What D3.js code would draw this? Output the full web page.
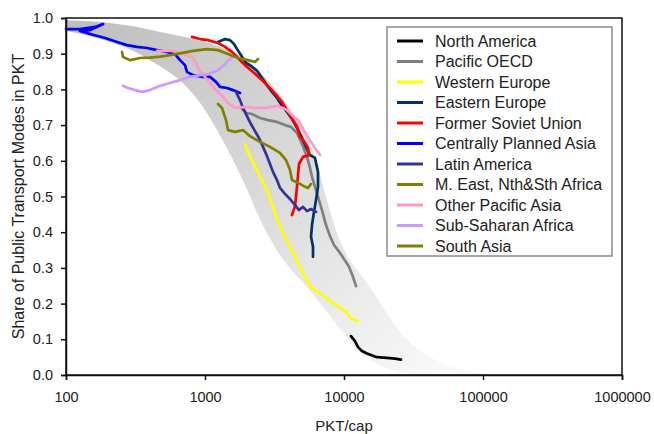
<!DOCTYPE html>
<html>
<head>
<meta charset="utf-8">
<script src="https://cdn.jsdelivr.net/npm/d3@7"></script>
<style>
body{margin:0;background:#fff;}
svg{display:block;}
text{font-family:"Liberation Sans",Arial,sans-serif;fill:#222;}
</style>
</head>
<body>
<svg></svg>
<script>
// regions and their colours, in legend order
var regions=["North America","Pacific OECD","Western Europe","Eastern Europe","Former Soviet Union",
  "Centrally Planned Asia","Latin America","M. East, Nth&Sth Africa","Other Pacific Asia",
  "Sub-Saharan Africa","South Asia"];
var regionColors=["#000000","#808080","#ffff00","#003366","#ff0000","#0000ff","#333399",
  "#808000","#ff99cc","#cc99ff","#7f7f00"];

// [PKT per capita, share of public transport]
var northAmerica=[[11220,.109],[12000,.095],[12620,.078],[13460,.067],[14620,.060],[17260,.050],[20370,.048],[23280,.046],[25700,.043]];
var pacificOECD=[[1786,.751],[1972,.734],[2178,.731],[2487,.720],[2840,.714],[3296,.709],[3764,.700],[4156,.695],[4590,.678],[5070,.641],[5420,.611],[5693,.580],[5886,.555],[6185,.527],[6500,.499],[6945,.462],[7421,.420],[7930,.389],[8475,.364],[9360,.342],[10000,.325],[10860,.303],[11605,.275],[12200,.249]];
var westernEurope=[[1941,.647],[2038,.625],[2178,.602],[2366,.574],[2570,.546],[2793,.518],[3034,.476],[3243,.445],[3466,.415],[3764,.387],[4090,.359],[4440,.331],[4823,.303],[5240,.275],[5690,.249],[6500,.232],[7300,.218],[8340,.202],[9360,.188],[10510,.176],[11040,.160],[12610,.151]];
var easternEurope=[[1241,.933],[1393,.941],[1513,.938],[1617,.927],[1699,.913],[1816,.896],[1972,.874],[2142,.866],[2366,.852],[2571,.832],[2793,.812],[3034,.793],[3296,.776],[3581,.754],[3890,.737],[4226,.717],[4590,.692],[4987,.664],[5330,.639],[5693,.616],[6185,.608],[6500,.569],[6500,.527],[6290,.490],[6085,.457],[5886,.420],[5790,.387],[5984,.359],[5984,.331]];
var formerSovietUnion=[[806,.947],[920,.941],[1051,.938],[1241,.930],[1393,.919],[1564,.905],[1728,.888],[1940,.868],[2214,.849],[2571,.826],[3034,.798],[3581,.765],[3955,.737],[4296,.714],[4590,.697],[4825,.667],[5155,.655],[5508,.636],[5600,.616],[5070,.611],[4746,.591],[4670,.560],[4590,.527],[4515,.499],[4442,.473],[4226,.448]];
var centrallyPlannedAsia=[[100,.969],[126,.969],[162,.975],[185,.983],[149,.966],[126,.964],[149,.955],[191,.944],[233,.933],[275,.924],[324,.919],[383,.916],[452,.910],[533,.905],[609,.899],[661,.882],[718,.868],[742,.849],[820,.840],[967,.835],[1086,.835],[1200,.821],[1282,.807],[1440,.804],[1590,.798],[1786,.790]];
var latinAmerica=[[1671,.793],[1786,.770],[1877,.748],[2005,.725],[2142,.703],[2289,.683],[2446,.664],[2614,.639],[2793,.613],[2935,.591],[3085,.569],[3296,.546],[3464,.524],[3764,.507],[4089,.493],[4442,.476],[4746,.462],[5070,.471],[5420,.459],[5790,.465],[6290,.457]];
var middleEastAfrica=[[1241,.759],[1326,.748],[1416,.714],[1464,.686],[1644,.681],[1877,.686],[2107,.669],[2487,.653],[2935,.639],[3464,.622],[3826,.602],[4089,.574],[4226,.546],[4670,.538],[5155,.529],[5508,.524],[5790,.535]];
var otherPacificAsia=[[452,.908],[516,.908],[579,.908],[661,.902],[742,.896],[806,.891],[862,.874],[905,.854],[984,.838],[1069,.821],[1180,.801],[1326,.782],[1488,.759],[1671,.748],[1940,.751],[2327,.748],[2747,.748],[3296,.754],[3890,.742],[4296,.725],[4670,.714],[5070,.689],[5600,.661],[6185,.636],[6720,.616]];
var subSaharanAfrica=[[257,.810],[279,.804],[314,.798],[352,.793],[402,.798],[475,.810],[560,.818],[661,.826],[780,.835],[920,.840],[1051,.843],[1220,.852],[1370,.868],[1464,.880],[1564,.891]];
var southAsia=[[253,.905],[257,.891],[289,.882],[341,.888],[402,.889],[475,.892],[560,.896],[661,.901],[820,.908],[1034,.913],[1241,.910],[1464,.899],[1728,.888],[2039,.882],[2289,.877],[2406,.885]];

// grey envelope: upper (right) and lower (left) edges
var bandUpper=[[100,.994],[176,.989],[289,.978],[475,.961],[780,.944],[1180,.924],[1786,.896],[2487,.849],[3464,.784],[4442,.723],[5508,.658],[6290,.602],[7180,.518],[8199,.440],[9510,.370],[11045,.322],[13475,.275],[16710,.224],[21420,.160],[29840,.090],[49040,.036],[80640,.011],[122000,0]];
var bandLower=[[100,.964],[156,.947],[275,.916],[423,.877],[629,.832],[820,.787],[1000,.742],[1220,.686],[1464,.630],[1728,.574],[2039,.513],[2406,.448],[2840,.392],[3464,.336],[4296,.289],[5508,.244],[7930,.165],[12400,.076],[16710,.034],[25290,.006],[32420,0]];

var xTicks=[100,1000,10000,100000,1000000];
var yTicks=[0,0.1,0.2,0.3,0.4,0.5,0.6,0.7,0.8,0.9,1.0];

var series=[northAmerica,pacificOECD,westernEurope,easternEurope,formerSovietUnion,
  centrallyPlannedAsia,latinAmerica,middleEastAfrica,otherPacificAsia,subSaharanAfrica,southAsia];

var drawGraph=function(w,h)
{
  var svg=d3.select("svg")
            .attr("width",w)
            .attr("height",h);
  var margins={top:18,bottom:59,left:66,right:32};
  var width=w-margins.left-margins.right;
  var height=h-margins.top-margins.bottom;

  var xScale=d3.scaleLog()
               .domain([100,1000000])
               .range([0,width]);
  var yScale=d3.scaleLinear()
               .domain([0,1])
               .range([height,0]);

  var defs=svg.append("defs");
  defs.append("clipPath").attr("id","plotClip")
      .append("rect").attr("width",width).attr("height",height);
  var grad=defs.append("linearGradient")
               .attr("id","bandGrad")
               .attr("gradientUnits","userSpaceOnUse")
               .attr("x1",0).attr("y1",0)
               .attr("x2",xScale(40000)).attr("y2",height);
  grad.append("stop").attr("offset","0").attr("stop-color","#bdbdbd");
  grad.append("stop").attr("offset","0.45").attr("stop-color","#d6d6d6");
  grad.append("stop").attr("offset","0.8").attr("stop-color","#ececec");
  grad.append("stop").attr("offset","1").attr("stop-color","#f8f8f8");

  var plotLand=svg.append("g")
                  .classed("plot",true)
                  .attr("transform","translate("+margins.left+","+margins.top+")");

  var line=d3.line()
             .x(function(d){return xScale(d[0]);})
             .y(function(d){return yScale(d[1]);});
  var smooth=d3.line()
               .x(function(d){return xScale(d[0]);})
               .y(function(d){return yScale(d[1]);})
               .curve(d3.curveCatmullRom);

  var bandPath=smooth(bandUpper)+"L"+smooth(bandLower.slice().reverse()).slice(1)+"Z";
  plotLand.append("path")
          .attr("d",bandPath)
          .attr("fill","url(#bandGrad)")
          .attr("clip-path","url(#plotClip)");

  plotLand.selectAll(".region")
          .data(series)
          .enter()
          .append("path")
          .classed("region",true)
          .attr("d",line)
          .attr("fill","none")
          .attr("stroke",function(d,i){return regionColors[i];})
          .attr("stroke-width",2.7)
          .attr("stroke-linejoin","round")
          .attr("stroke-linecap","round");

  // frame (top and right)
  plotLand.append("rect")
          .attr("width",width)
          .attr("height",height)
          .attr("fill","none")
          .attr("stroke","#111")
          .attr("stroke-width",1.5);

  var xAxis=d3.axisBottom(xScale)
              .tickValues(xTicks)
              .tickFormat(d3.format("d"))
              .tickSizeOuter(0)
              .tickSize(5)
              .tickPadding(12);
  var yAxis=d3.axisLeft(yScale)
              .tickValues(yTicks)
              .tickFormat(d3.format(".1f"))
              .tickSizeOuter(0)
              .tickSize(5)
              .tickPadding(8);

  svg.append("g").classed("xAxis",true)
     .attr("transform","translate("+margins.left+","+(margins.top+height)+")")
     .call(xAxis);
  svg.append("g").classed("yAxis",true)
     .attr("transform","translate("+margins.left+","+margins.top+")")
     .call(yAxis);
  svg.selectAll(".xAxis text,.yAxis text")
     .style("font-size","14.5px")
     .attr("fill","#222")
     .style("font-family","'Liberation Sans',Arial,sans-serif");
  svg.selectAll(".xAxis path,.xAxis line,.yAxis path,.yAxis line")
     .attr("stroke","#111")
     .attr("stroke-width",1.5);

  svg.append("text")
     .attr("transform","translate(24,"+(margins.top+height/2)+") rotate(-90)")
     .attr("text-anchor","middle")
     .style("font-size","16px")
     .text("Share of Public Transport Modes in PKT");
  svg.append("text")
     .attr("x",margins.left+width/2)
     .attr("y",431)
     .attr("text-anchor","middle")
     .style("font-size","15px")
     .text("PKT/cap");

  // the legend
  var legend=svg.append("g")
                .classed("legend",true)
                .attr("transform","translate(387,27)");
  legend.append("rect")
        .attr("width",225)
        .attr("height",229)
        .attr("fill","#fff")
        .attr("stroke","#8a8a8a")
        .attr("stroke-width",1.5);
  var legendLines=legend.selectAll(".legendLine")
                        .data(regions)
                        .enter()
                        .append("g")
                        .classed("legendLine",true)
                        .attr("transform",function(d,i){return "translate(0,"+(14+i*20.5)+")";});
  legendLines.append("line")
             .attr("x1",10)
             .attr("x2",36)
             .attr("stroke",function(d,i){return regionColors[i];})
             .attr("stroke-width",3);
  legendLines.append("text")
             .attr("x",48)
             .attr("dy","0.35em")
             .style("font-size","16px")
             .text(function(d){return d;});
};

drawGraph(654,434);
</script>
</body>
</html>
